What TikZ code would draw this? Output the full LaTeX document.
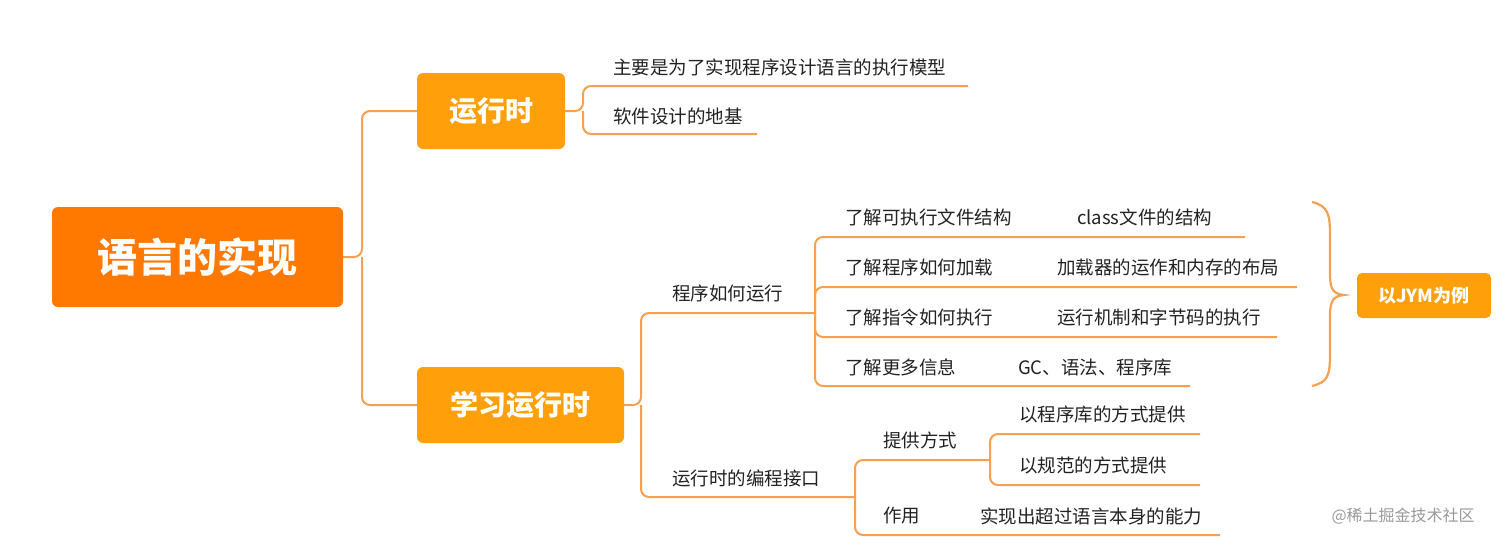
\documentclass[tikz,border=0pt]{standalone}
\usepackage{fontspec}
\setmainfont{Noto Sans CJK SC}
\definecolor{rootorange}{HTML}{FF7800}
\definecolor{boxorange}{HTML}{FFA00A}
\definecolor{lineorange}{HTML}{F7A050}
\definecolor{txt}{HTML}{222222}
\tikzset{
  rootbox/.style={fill=rootorange, rounded corners=6pt, text=white, font=\fontsize{40}{42}\selectfont\bfseries, minimum width=291pt, minimum height=100pt},
  topicbox/.style={fill=boxorange, rounded corners=6pt, text=white, font=\fontsize{28}{30}\selectfont\bfseries, minimum height=76pt},
  leaf/.style={anchor=west, text=txt, font=\fontsize{18.5}{20}\selectfont, inner sep=0pt},
  link/.style={draw=lineorange, line width=2pt, rounded corners=8pt},
}
\begin{document}
\begin{tikzpicture}[x=1pt,y=-1pt]
  \useasboundingbox (0,0) rectangle (1512,544);
  % main boxes
  \node (root) [rootbox] at (197.5,257) {语言的实现};
  \node (rt) [topicbox, minimum width=148pt] at (491,111) {运行时};
  \node (learn) [topicbox, minimum width=207pt] at (520.5,405) {学习运行时};
  \node (jym) [fill=boxorange, rounded corners=5pt, text=white, font=\fontsize{18}{20}\selectfont\bfseries, minimum width=134pt, minimum height=45pt] at (1424,295.5) {以JYM为例};
  \draw [link] (root.east) -- (362,257) |- (rt.west);
  \draw [link] (362,257) |- (learn.west);
  % runtime leaves
  \node (r1) [leaf] at (613,67) {主要是为了实现程序设计语言的执行模型};
  \node (r2) [leaf] at (613,116) {软件设计的地基};
  \draw [link] (rt.east) -- (583,111) |- (968,86);
  \draw [link] (583,111) |- (757,134);
  % learning branches
  \node (p) [leaf] at (672,293) {程序如何运行};
  \node (api) [leaf] at (672,478) {运行时的编程接口};
  \draw [link] (learn.east) -- (641,405) |- (815,313);
  \draw [link] (641,405) |- (855,497);
  % how programs run
  \node (p1) [leaf] at (845,217) {了解可执行文件结构};
  \node (p1c) [leaf] at (1077,217) {class文件的结构};
  \node (p2) [leaf] at (845,267) {了解程序如何加载};
  \node (p2c) [leaf] at (1057,267) {加载器的运作和内存的布局};
  \node (p3) [leaf] at (845,317) {了解指令如何执行};
  \node (p3c) [leaf] at (1057,317) {运行机制和字节码的执行};
  \node (p4) [leaf] at (845,367) {了解更多信息};
  \node (p4c) [leaf] at (1018,367) {GC、语法、程序库};
  \draw [link] (815,313) |- (1245,237);
  \draw [link] (815,313) |- (1297,287);
  \draw [link] (815,313) |- (1277,337);
  \draw [link] (815,313) |- (1190,386);
  \draw [lineorange, line width=2.2pt] (1312,202) .. controls (1328,206) and (1330,214) .. (1330,235)
    -- (1330,275) .. controls (1330,290) and (1334,294) .. (1344,295)
    .. controls (1334,296) and (1330,300) .. (1330,315)
    -- (1330,353) .. controls (1330,376) and (1328,382) .. (1312,386);
  % api
  \node (a1) [leaf] at (883,440) {提供方式};
  \node (a1a) [leaf] at (1019,414) {以程序库的方式提供};
  \node (a1b) [leaf] at (1019,465) {以规范的方式提供};
  \node (a2) [leaf] at (883,516) {作用};
  \node (a2c) [leaf] at (980,516) {实现出超过语言本身的能力};
  \draw [link] (855,497) |- (990,460);
  \draw [link] (855,497) |- (1220,535);
  \draw [link] (990,460) |- (1200,434);
  \draw [link] (990,460) |- (1200,485);
  % watermark
  \node (wm) [anchor=west, text=gray!80, font=\fontsize{16}{18}\selectfont] at (1328,516) {@稀土掘金技术社区};
\end{tikzpicture}
\end{document}
